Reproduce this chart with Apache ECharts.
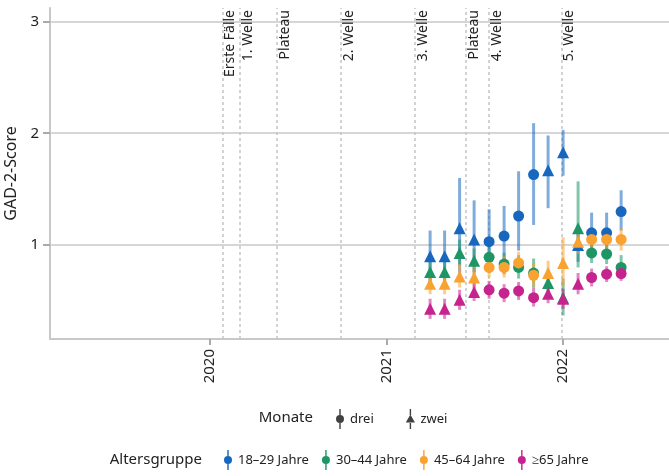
<!DOCTYPE html>
<html>
<head>
<meta charset="utf-8">
<script src="https://cdn.jsdelivr.net/npm/echarts@6/dist/echarts.min.js"></script>
<style>html,body{margin:0;padding:0;background:#fff}#c{width:669px;height:476px}</style>
</head>
<body>
<div id="c"></div>
<script>
// ---- data ----
const months = ['2021-04-01','2021-05-01','2021-06-01','2021-07-01','2021-08-01','2021-09-01','2021-10-01','2021-11-01','2021-12-01','2022-01-01','2022-02-01','2022-03-01','2022-04-01','2022-05-01'];
const monthType = ['zwei','zwei','zwei','zwei','drei','drei','drei','drei','zwei','zwei','zwei','drei','drei','drei'];

const groups = ['18–29 Jahre','30–44 Jahre','45–64 Jahre','≥65 Jahre'];

const mean18 = [0.90,0.90,1.15,1.05,1.03,1.08,1.26,1.63,1.67,1.83,1.00,1.11,1.11,1.30];
const lo18   = [0.68,0.68,0.72,0.74,0.75,0.82,0.95,1.18,1.33,1.62,0.85,0.96,0.96,1.13];
const hi18   = [1.13,1.13,1.60,1.40,1.32,1.35,1.66,2.09,1.98,2.03,1.15,1.29,1.29,1.49];

const mean30 = [0.76,0.76,0.93,0.86,0.89,0.83,0.80,0.75,0.66,0.53,1.15,0.93,0.92,0.80];
const lo30   = [0.67,0.67,0.82,0.76,0.80,0.74,0.70,0.62,0.55,0.37,0.80,0.84,0.83,0.70];
const hi30   = [0.86,0.86,1.05,0.97,0.99,0.93,0.91,0.88,0.78,0.70,1.57,1.03,1.01,0.91];

const mean45 = [0.655,0.655,0.72,0.71,0.80,0.80,0.84,0.73,0.75,0.84,1.03,1.05,1.05,1.05];
const lo45   = [0.56,0.56,0.62,0.62,0.71,0.71,0.75,0.63,0.65,0.63,0.92,0.96,0.96,0.95];
const hi45   = [0.75,0.75,0.83,0.81,0.89,0.90,0.94,0.84,0.86,1.07,1.14,1.14,1.14,1.15];

const mean65 = [0.43,0.43,0.51,0.58,0.60,0.57,0.59,0.53,0.565,0.52,0.655,0.71,0.74,0.745];
const lo65   = [0.34,0.34,0.42,0.50,0.52,0.49,0.51,0.45,0.48,0.43,0.56,0.63,0.67,0.68];
const hi65   = [0.52,0.52,0.60,0.66,0.68,0.65,0.67,0.62,0.65,0.61,0.75,0.79,0.81,0.81];

const waveDates  = ['2020-01-27','2020-03-02','2020-05-18','2020-09-28','2021-03-01','2021-06-14','2021-08-02','2021-12-27'];
const waveLabels = ['Erste Fälle','1. Welle','Plateau','2. Welle','3. Welle','Plateau','4. Welle','5. Welle'];

const yearTicks = [2020, 2021, 2022];
const yTicks = [1, 2, 3];
const xRange = ['2019-02-04', '2022-08-08'];

// date string -> fractional year (for the value x-axis)
function yr(s) {
  const d = new Date(s + 'T00:00:00Z');
  const y = d.getUTCFullYear();
  const a = Date.UTC(y, 0, 1), b = Date.UTC(y + 1, 0, 1);
  return y + (d.getTime() - a) / (b - a);
}

// ---- styling ----
const colors = ['#1767bf','#1d9565','#f9a230','#c6238f'];
const FONT = 'Noto Sans';
const means = [mean18, mean30, mean45, mean65];
const los = [lo18, lo30, lo45, lo65];
const his = [hi18, hi30, hi45, hi65];

const symFor = t => t === 'drei' ? 'circle' : 'triangle';
const sizeFor = t => t === 'drei' ? 11 : 12;

const series = [];
// wave marker lines (underneath everything)
series.push({
  name: 'waves', type: 'scatter', data: [], z: 1,
  markLine: {
    z: 1,
    silent: true, symbol: ['none', 'none'], animation: false,
    lineStyle: { color: '#c4c4c4', type: [3, 3], width: 1.5 },
    label: { show: true, formatter: '{b}', position: 'insideEndBottom', distance: [2, 1],
             color: '#222', fontSize: 14, fontFamily: FONT },
    data: waveDates.map((d, i) => ({ xAxis: yr(d), name: waveLabels[i] }))
  }
});
groups.forEach((g, gi) => {
  series.push({
    name: g + ' KI',
    type: 'custom',
    z: 6,
    silent: true,
    data: months.map((m, i) => [yr(m), los[gi][i], his[gi][i]]),
    encode: { x: 0, y: [1, 2] },
    renderItem: (params, api) => {
      const x = api.value(0);
      const a = api.coord([x, api.value(1)]);
      const b = api.coord([x, api.value(2)]);
      return { type: 'line', shape: { x1: a[0], y1: a[1], x2: b[0], y2: b[1] },
               style: { stroke: colors[gi], lineWidth: 3, opacity: 0.55 } };
    }
  });
});
groups.forEach((g, gi) => {
  series.push({
    name: g,
    type: 'scatter',
    z: 7,
    itemStyle: { color: colors[gi], opacity: 1 },
    data: months.map((m, i) => ({ value: [yr(m), means[gi][i]], symbol: symFor(monthType[i]), symbolSize: sizeFor(monthType[i]) }))
  });
});
// dummy series for the "Monate" legend
series.push({ name: 'drei', type: 'scatter', data: [], itemStyle: { color: '#111' } });
series.push({ name: 'zwei', type: 'scatter', data: [], itemStyle: { color: '#111' } });

const pr = 'path://M4.3,0h1.4v6h-1.4z M4.3,14h1.4v6h-1.4z M5,6a4,4 0 1 1 0,8a4,4 0 1 1 0,-8z';
const tri = 'path://M4.3,0h1.4v6h-1.4z M4.3,14h1.4v6h-1.4z M5,5.5L9.6,13.5L0.4,13.5z';

const option = {
  animation: false,
  backgroundColor: '#fff',
  textStyle: { fontFamily: FONT },
  grid: { left: 50, right: 0, top: 8, bottom: 137, containLabel: false, outerBoundsMode: 'none' },
  xAxis: {
    type: 'value',
    min: yr(xRange[0]), max: yr(xRange[1]),
    axisLine: { show: true, lineStyle: { color: '#c8c8c8', width: 2 } },
    axisTick: { show: true, customValues: yearTicks, length: 6, lineStyle: { color: '#aaaaaa', width: 2 } },
    axisLabel: { customValues: yearTicks, rotate: 90, margin: 10, fontSize: 15, color: '#222', fontFamily: FONT,
                 formatter: v => String(Math.round(v)) },
    splitLine: { show: false }
  },
  yAxis: {
    type: 'value', min: 0.16, max: 3.12,
    name: 'GAD-2-Score', nameLocation: 'middle', nameGap: 30, nameRotate: 90,
    nameTextStyle: { fontSize: 16, color: '#222', fontFamily: FONT },
    axisLine: { show: true, lineStyle: { color: '#c8c8c8', width: 2 } },
    axisTick: { show: true, customValues: yTicks, length: 7, lineStyle: { color: '#aaaaaa', width: 2 } },
    axisLabel: { customValues: yTicks, margin: 11, fontSize: 15, color: '#222', fontFamily: FONT },
    splitLine: { show: true, lineStyle: { color: '#d6d6d6', width: 2 } }
  },
  legend: [
    { left: 336, top: 409, padding: 0, orient: 'horizontal', itemWidth: 10, itemHeight: 20, itemGap: 32,
      data: [{ name: 'drei', icon: pr }, { name: 'zwei', icon: tri }],
      textStyle: { fontSize: 13, color: '#222', fontFamily: FONT }, selectedMode: false },
    { left: 224, top: 450, padding: 0, orient: 'horizontal', itemWidth: 10, itemHeight: 20, itemGap: 13,
      data: groups.map(g => ({ name: g, icon: pr })),
      textStyle: { fontSize: 13, color: '#222', fontFamily: FONT }, selectedMode: false }
  ],
  graphic: [
    { type: 'text', x: 313, y: 418, style: { text: 'Monate', fontSize: 15, fill: '#222', fontFamily: FONT, align: 'right', verticalAlign: 'middle' } },
    { type: 'text', x: 202, y: 460, style: { text: 'Altersgruppe', fontSize: 15, fill: '#222', fontFamily: FONT, align: 'right', verticalAlign: 'middle' } }
  ],
  series: series
};

const chart = echarts.init(document.getElementById('c'), null, { renderer: 'canvas' });
chart.setOption(option);
</script>
</body>
</html>
